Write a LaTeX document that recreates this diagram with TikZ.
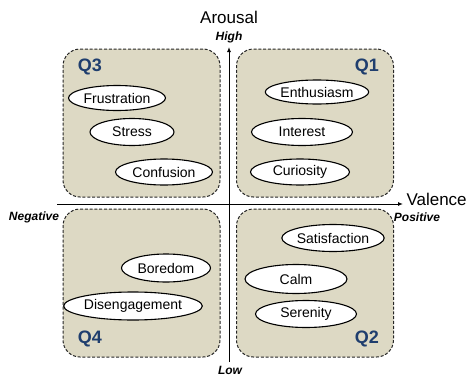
\documentclass[tikz,border=0pt]{standalone}
\usepackage{fontspec}
\setmainfont{Liberation Sans}
\usepackage{tikz}
\usetikzlibrary{arrows.meta, shapes.geometric}
\definecolor{quadfill}{RGB}{221,217,196}
\definecolor{quadtext}{RGB}{31,62,110}
\tikzset{quad/.style={draw=black!85, fill=quadfill, dash pattern=on 3pt off 1.8pt, line width=1pt, rounded corners=17pt, minimum width=157pt, minimum height=148pt},
         qlabel/.style={text=quadtext, font=\fontsize{18}{18}\selectfont\bfseries},
         emotion/.style={draw, line width=1.1pt, fill=white, ellipse, inner sep=0pt, font=\fontsize{14}{14}\selectfont},
         pole/.style={font=\fontsize{12}{12}\selectfont\bfseries\itshape},
         axis/.style={line width=1pt, -{Latex[length=5pt, width=4pt]}}}

\begin{document}
\begin{tikzpicture}[x=1pt, y=-1pt]
            \useasboundingbox (0, 0) rectangle (467, 378);
            \node[quad] (q3) at (141.5, 123) {};
            \node[quad] (q1) at (315, 123) {};
            \node[quad] (q4) at (141.5, 283) {};
            \node[quad] (q2) at (315, 283) {};
            \node[qlabel] (q3lab) at (90, 67) {Q3};
            \node[qlabel] (q1lab) at (367, 67) {Q1};
            \node[qlabel] (q4lab) at (90, 339) {Q4};
            \node[qlabel] (q2lab) at (367, 339) {Q2};
            % axes
            \coordinate (ybot) at (229, 362);
            \coordinate (ytop) at (229, 47);
            \coordinate (xleft) at (57, 204);
            \coordinate (xright) at (403, 204);
            \draw[axis] (ybot) -- (ytop);
            \draw[axis] (xleft) -- (xright);
            \node[font=\fontsize{17}{17}\selectfont] (arousal) at (229, 17) {Arousal};
            \node[pole] (high) at (229, 37) {High};
            \node[pole] (low) at (230, 370.5) {Low};
            \node[font=\fontsize{17}{17}\selectfont, anchor=west] (valence) at (403, 199) {Valence};
            \node[pole] (neg) at (34, 217) {Negative};
            \node[pole] (pos) at (417, 217) {Positive};
            % emotions
            \node[emotion, minimum width=97pt, minimum height=25pt] (frustration) at (117, 98) {Frustration};
            \node[emotion, minimum width=84pt, minimum height=27pt] (stress) at (132, 132) {Stress};
            \node[emotion, minimum width=97pt, minimum height=26pt] (confusion) at (164, 172) {Confusion};
            \node[emotion, minimum width=102pt, minimum height=24pt] (enthusiasm) at (317, 92) {Enthusiasm};
            \node[emotion, minimum width=101pt, minimum height=27pt] (interest) at (302, 132) {Interest};
            \node[emotion, minimum width=99pt, minimum height=26pt] (curiosity) at (300, 172) {Curiosity};
            \node[emotion, minimum width=101pt, minimum height=27pt] (satisfaction) at (333, 238) {Satisfaction};
            \node[emotion, minimum width=102pt, minimum height=29pt] (calm) at (296, 279) {Calm};
            \node[emotion, minimum width=101pt, minimum height=27pt] (serenity) at (306, 314) {Serenity};
            \node[emotion, minimum width=89pt, minimum height=28pt] (boredom) at (166, 268) {Boredom};
            \node[emotion, minimum width=128pt, minimum height=28pt] (disengagement) at (133, 306) {Disengagement};
        \end{tikzpicture}
\end{document}
